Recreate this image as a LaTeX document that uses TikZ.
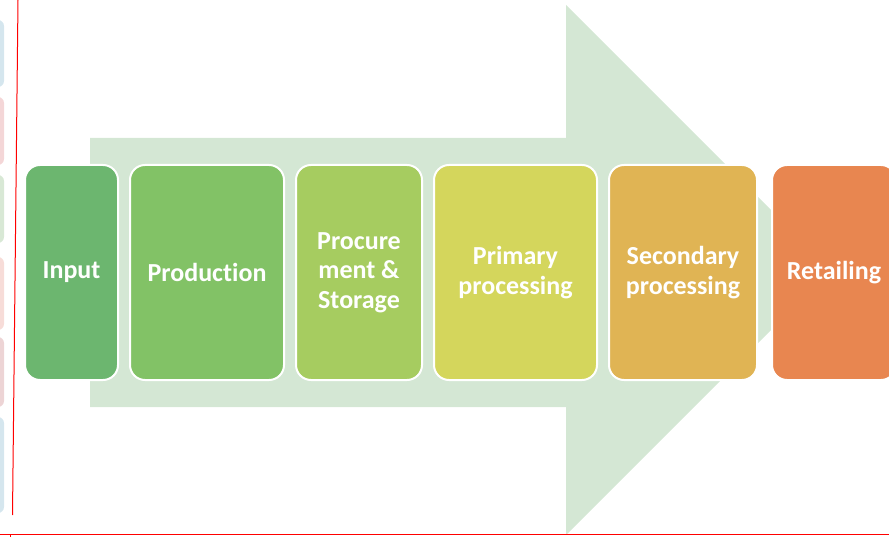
\documentclass[tikz,border=0pt]{standalone}
\usepackage{fontspec}
\setmainfont{Carlito}[Ligatures={NoCommon}]
\usepackage{xcolor}
\usetikzlibrary{positioning, calc}

\definecolor{arrowgreen}{HTML}{D4E7D4}
\definecolor{inputcol}{HTML}{6CB66F}
\definecolor{prodcol}{HTML}{82C266}
\definecolor{procol}{HTML}{A6CC60}
\definecolor{primcol}{HTML}{D4D65C}
\definecolor{seccol}{HTML}{E0B454}
\definecolor{retcol}{HTML}{E88650}
\definecolor{sideblue}{HTML}{D5E6EE}
\definecolor{sidepink}{HTML}{F4D6D7}
\definecolor{sidegreen}{HTML}{D8E8D5}
\definecolor{sidepeach}{HTML}{F7DCD8}
\definecolor{sidemauve}{HTML}{EDD4D5}

\begin{document}
\begin{tikzpicture}[x=1pt, y=-1pt,
	stage/.style={draw=white, line width=2pt, rounded corners=15pt, text=white,
		font=\bfseries\fontsize{26}{29.5}\selectfont, align=center, inner sep=0pt},
	sidebox/.style={rounded corners=6pt}]
		\useasboundingbox (0,0) rectangle (889,537);
		
		% faded boxes at the left edge
		\fill [sidebox, sideblue] (-20,20) rectangle (4,87);
		\fill [sidebox, sidepink] (-20,97) rectangle (4,165);
		\fill [sidebox, sidegreen] (-20,175) rectangle (4,243);
		\fill [sidebox, sidepeach] (-20,257) rectangle (4,330);
		\fill [sidebox, sidemauve] (-20,337) rectangle (4,407);
		\fill [sidebox, sideblue] (-20,417) rectangle (4,513);
		
		% big arrow behind the stages
		\fill [arrowgreen] (90,138) -- (566,138) -- (566,5) -- (831,270) -- (566,535) -- (566,407) -- (90,407) -- cycle;
		
		\node (input) [stage, fill=inputcol, minimum width=93pt, minimum height=215pt] at (71.5,272.5) {Input};
		\node (production) [stage, fill=prodcol, minimum width=154pt, minimum height=215pt] at (207,272.5) {Production};
		\node (procurement) [stage, fill=procol, minimum width=126pt, minimum height=215pt] at (359,272.5) {Procure\\ment \&\\Storage};
		\node (primary) [stage, fill=primcol, minimum width=163pt, minimum height=215pt] at (515.5,272.5) {Primary\\processing};
		\node (secondary) [stage, fill=seccol, minimum width=148pt, minimum height=215pt] at (683,272.5) {Secondary\\processing};
		\node (retailing) [stage, fill=retcol, minimum width=124pt, minimum height=215pt] at (834,272.5) {Retailing};
		
		% red guide lines
		\draw [red, line width=1pt] (18,0) -- (12.5,515);
		\draw [red, line width=1pt] (0,534) -- (889,534);
		\draw [red, line width=1pt] (10,534) -- (10,537);
		
	\end{tikzpicture}
\end{document}
